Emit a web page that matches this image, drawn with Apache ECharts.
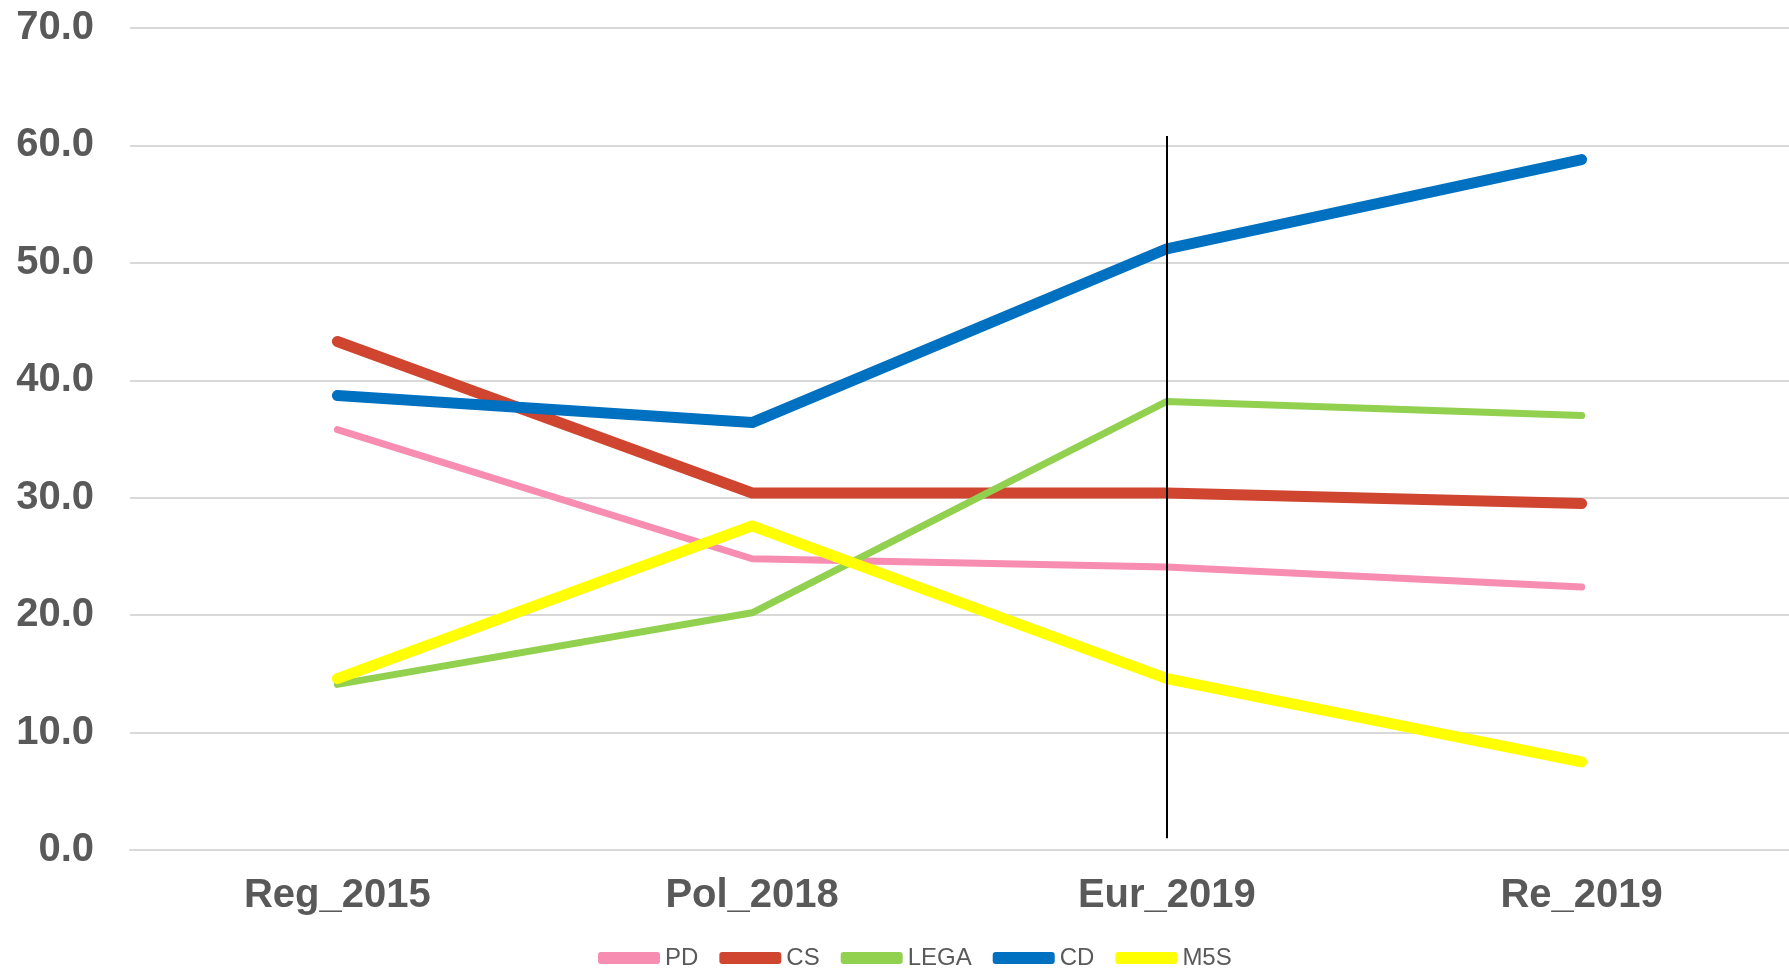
<!DOCTYPE html>
<html>
<head>
<meta charset="utf-8">
<script src="https://cdn.jsdelivr.net/npm/echarts@6/dist/echarts.min.js"></script>
<style>
  html, body { margin: 0; padding: 0; background: #fff; }
  #chart { width: 1789px; height: 974px; }
</style>
</head>
<body>
<div id="chart"></div>
<script>
const categories = ['Reg_2015', 'Pol_2018', 'Eur_2019', 'Re_2019']
const seriesNames = ['PD', 'CS', 'LEGA', 'CD', 'M5S']
const pd = [35.8, 24.8, 24.1, 22.4]
const cs = [43.3, 30.4, 30.4, 29.5]
const lega = [14.1, 20.2, 38.2, 37.0]
const cd = [38.7, 36.4, 51.2, 58.8]
const m5s = [14.6, 27.6, 14.6, 7.5]
// vertical marker at Eur_2019, from / to (in axis values)
const markerRange = [1.0, 60.8]

const colors = ['#F78DB0', '#D0452F', '#92D050', '#0070C0', '#FFFF00']
const widths = [7, 11, 7, 11, 11]
const values = [pd, cs, lega, cd, m5s]

const chart = echarts.init(document.getElementById('chart'))

const series = seriesNames.map((name, i) => ({
  name,
  type: 'line',
  data: values[i],
  symbol: 'none',
  color: colors[i],
  lineStyle: { width: widths[i], color: colors[i], cap: 'round', join: 'round' },
  z: 2
}))

series[2].markLine = {
  silent: true,
  symbol: 'none',
  label: { show: false },
  lineStyle: { color: '#000', width: 2, type: 'solid' },
  data: [[
    { coord: ['Eur_2019', markerRange[1]] },
    { coord: ['Eur_2019', markerRange[0]] }
  ]]
}

chart.setOption({
  animation: false,
  backgroundColor: '#fff',
  grid: { left: 130, right: -8, top: 28, bottom: 124, containLabel: false },
  legend: {
    data: seriesNames,
    bottom: -1,
    left: 593,
    icon: 'roundRect',
    itemWidth: 62,
    itemHeight: 12,
    itemGap: 21,
    textStyle: { color: '#595959', fontSize: 24, fontFamily: 'Liberation Sans, Arial, sans-serif' }
  },
  xAxis: {
    type: 'category',
    data: categories,
    boundaryGap: true,
    axisLine: { lineStyle: { color: '#D9D9D9', width: 2 } },
    axisTick: { show: false },
    axisLabel: {
      color: '#595959', fontSize: 40, fontWeight: 'bold', margin: 26,
      fontFamily: 'Liberation Sans, Arial, sans-serif'
    }
  },
  yAxis: {
    type: 'value',
    min: 0,
    max: 70,
    interval: 10,
    axisLine: { show: false },
    axisTick: { show: false },
    splitLine: { lineStyle: { color: '#D9D9D9', width: 2 } },
    axisLabel: {
      color: '#595959', fontSize: 40, fontWeight: 'bold', margin: 36,
      fontFamily: 'Liberation Sans, Arial, sans-serif',
      formatter: v => v.toFixed(1)
    }
  },
  series
})
</script>
</body>
</html>
